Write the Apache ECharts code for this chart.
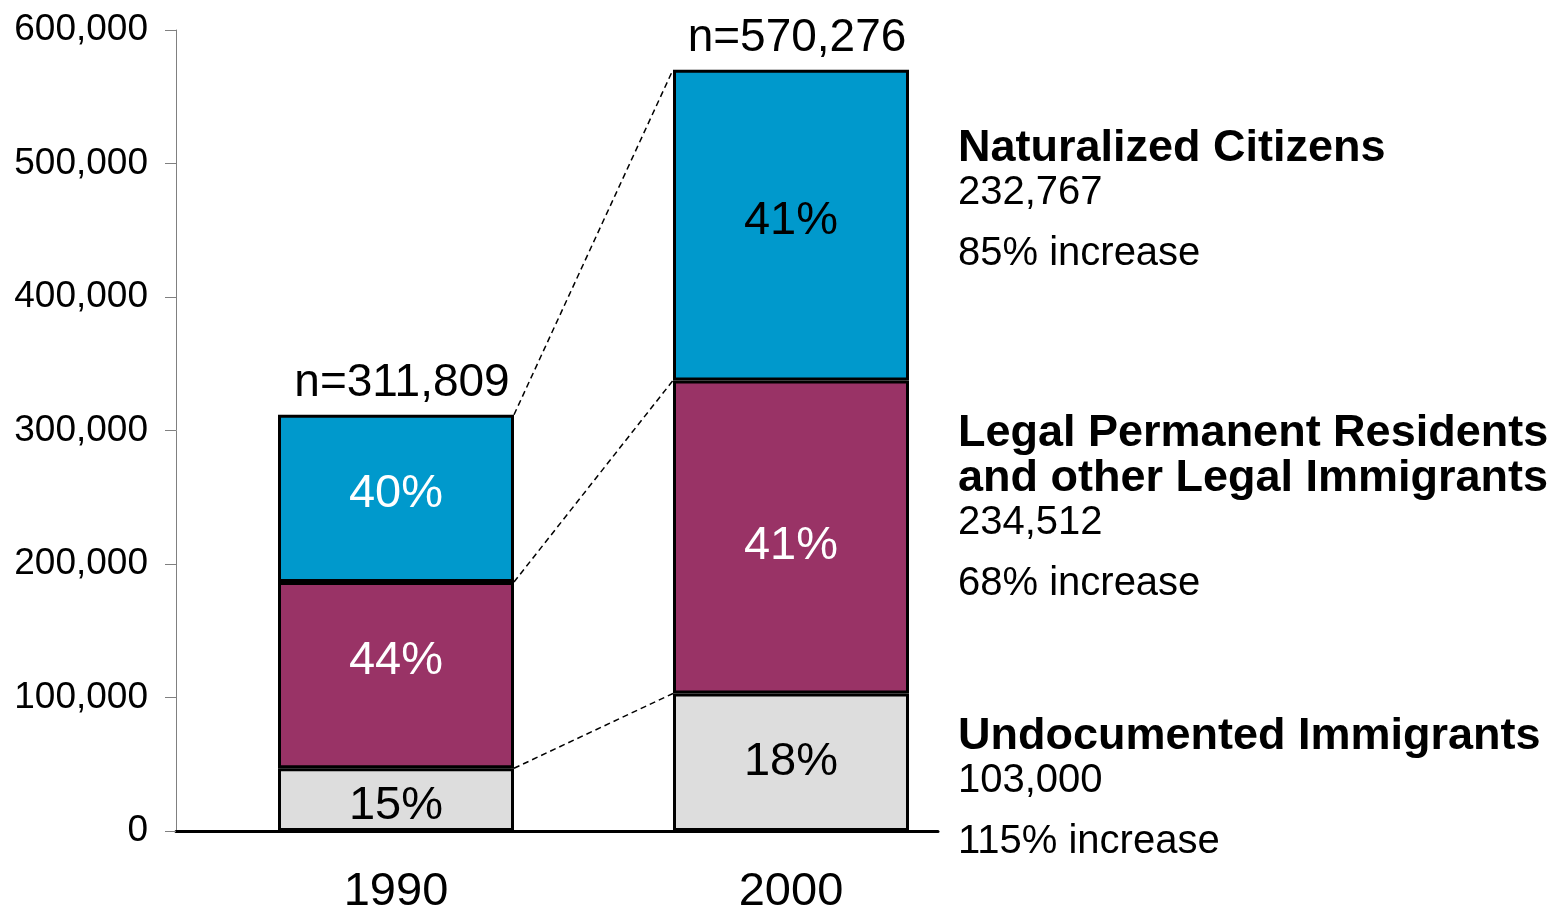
<!DOCTYPE html>
<html><head><meta charset="utf-8">
<script src="https://cdn.jsdelivr.net/npm/echarts@6/dist/echarts.min.js"></script>
<style>html,body{margin:0;padding:0;background:#fff}#c{width:1557px;height:911px}</style>
</head><body><div id="c"></div>
<script>
// ---- data ----
const years = ['1990', '2000'];
const undocumented = [47000, 103000];
const legal = [139500, 234512];
const naturalized = [125309, 232767];
const totals = [311809, 570276];
const pctUndocumented = [15, 18];
const pctLegal = [44, 41];
const pctNaturalized = [40, 41];
const groupNames = ['Naturalized Citizens', 'Legal Permanent Residents\nand other Legal Immigrants', 'Undocumented Immigrants'];
const groupValues2000 = [232767, 234512, 103000];
const groupIncrease = [85, 68, 115];

// ---- styles ----
const FONT = '"Liberation Sans", Arial, Helvetica, sans-serif';
const BAR_W = 236;
const colors = { nat: '#0099CC', legal: '#993366', undoc: '#DDDDDD' };
const labelColors = { nat: ['#ffffff', '#000000'], legal: ['#ffffff', '#ffffff'], undoc: ['#000000', '#000000'] };
const fmt = v => v.toLocaleString('en-US');

function barSeries(name, values, pcts, color, lblColors, offsets) {
  return {
    name, type: 'bar', stack: 'total', barWidth: BAR_W,
    xAxisIndex: 1, yAxisIndex: 1,
    itemStyle: { color, borderColor: '#000', borderWidth: 3 },
    data: values.map((v, i) => ({
      value: v,
      label: { color: lblColors[i], offset: [0, offsets[i]] }
    })),
    label: {
      show: true, position: 'inside', fontFamily: FONT, fontSize: 47,
      formatter: p => pcts[p.dataIndex] + '%'
    },
    z: 2
  };
}

// boundaries between segments for the dashed connectors
const cumUndoc = undocumented.slice();
const cumLegal = undocumented.map((v, i) => v + legal[i]);
const connectorData = [
  [cumUndoc[0], cumUndoc[1]],
  [cumLegal[0], cumLegal[1]],
  [totals[0], totals[1]]
];

// right-side annotation texts
const baseCenters = [149, 434, 737];
const graphics = [];
groupNames.forEach((name, k) => {
  const lines = name.split('\n').length;
  const y0 = baseCenters[k];
  graphics.push({ type: 'text', x: 958, y: y0 - 22.5, style: { text: name, font: 'bold 45px ' + FONT, fill: '#000', lineHeight: 45, verticalAlign: 'top' } });
  const vY = y0 + (lines - 1) * 45 + 44;
  graphics.push({ type: 'text', x: 958, y: vY, style: { text: fmt(groupValues2000[k]), font: '40px ' + FONT, fill: '#000', verticalAlign: 'middle' } });
  graphics.push({ type: 'text', x: 958, y: vY + 61, style: { text: groupIncrease[k] + '% increase', font: '40px ' + FONT, fill: '#000', verticalAlign: 'middle' } });
});

const chart = echarts.init(document.getElementById('c'), null, { renderer: 'canvas' });
chart.setOption({
  animation: false,
  backgroundColor: '#fff',
  grid: [
    { left: 176, right: 619, top: 30, bottom: 80, containLabel: false, outerBoundsMode: 'none' },
    { left: 198.5, right: 568.5, top: 30, bottom: 80, containLabel: false, outerBoundsMode: 'none' }
  ],
  xAxis: [
    {
      gridIndex: 0, type: 'value', min: 0, max: 1,
      axisLine: { show: true, onZero: false, lineStyle: { color: '#000', width: 3 } },
      axisTick: { show: false }, splitLine: { show: false }, axisLabel: { show: false }
    },
    {
      gridIndex: 1, type: 'category', data: years,
      axisLine: { show: false }, axisTick: { show: false }, splitLine: { show: false },
      axisLabel: { fontFamily: FONT, fontSize: 47, color: '#000', margin: 38 }
    }
  ],
  yAxis: [
    {
      gridIndex: 0, type: 'value', min: 0, max: 600000, interval: 100000,
      axisLine: { show: true, onZero: false, lineStyle: { color: '#808080', width: 1 } },
      axisTick: { show: true, length: 11, lineStyle: { color: '#808080', width: 1 } },
      splitLine: { show: false },
      axisLabel: { formatter: v => fmt(v), fontFamily: FONT, fontSize: 37, color: '#000', margin: 28, padding: [4, 0, 0, 0] }
    },
    {
      gridIndex: 1, type: 'value', min: 0, max: 600000, interval: 100000,
      show: false, splitLine: { show: false }
    }
  ],
  graphic: graphics,
  series: [
    barSeries('Undocumented Immigrants', undocumented, pctUndocumented, colors.undoc, labelColors.undoc, [6, 0]),
    barSeries('Legal Permanent Residents and other Legal Immigrants', legal, pctLegal, colors.legal, labelColors.legal, [-14, 9]),
    barSeries('Naturalized Citizens', naturalized, pctNaturalized, colors.nat, labelColors.nat, [-4, -4]),
    {
      type: 'scatter', symbolSize: 0, silent: true,
      xAxisIndex: 1, yAxisIndex: 1,
      itemStyle: { opacity: 1 },
      data: totals,
      label: {
        show: true, position: 'top', distance: 8, offset: [6, 0],
        fontFamily: FONT, fontSize: 46, color: '#000',
        formatter: p => 'n=' + fmt(totals[p.dataIndex])
      },
      z: 5
    },
    {
      type: 'custom', silent: true, z: 3,
      xAxisIndex: 1, yAxisIndex: 1,
      data: connectorData.map(([a, b]) => [0, a, b]),
      encode: { x: 0, y: [1, 2] },
      renderItem: (params, api) => {
        const a = api.coord([0, api.value(1)]);
        const b = api.coord([1, api.value(2)]);
        return {
          type: 'line',
          shape: { x1: a[0] + BAR_W / 2, y1: a[1], x2: b[0] - BAR_W / 2, y2: b[1] },
          style: { stroke: '#000', lineWidth: 1.5, lineDash: [6, 4] }
        };
      }
    }
  ]
});
</script></body></html>
